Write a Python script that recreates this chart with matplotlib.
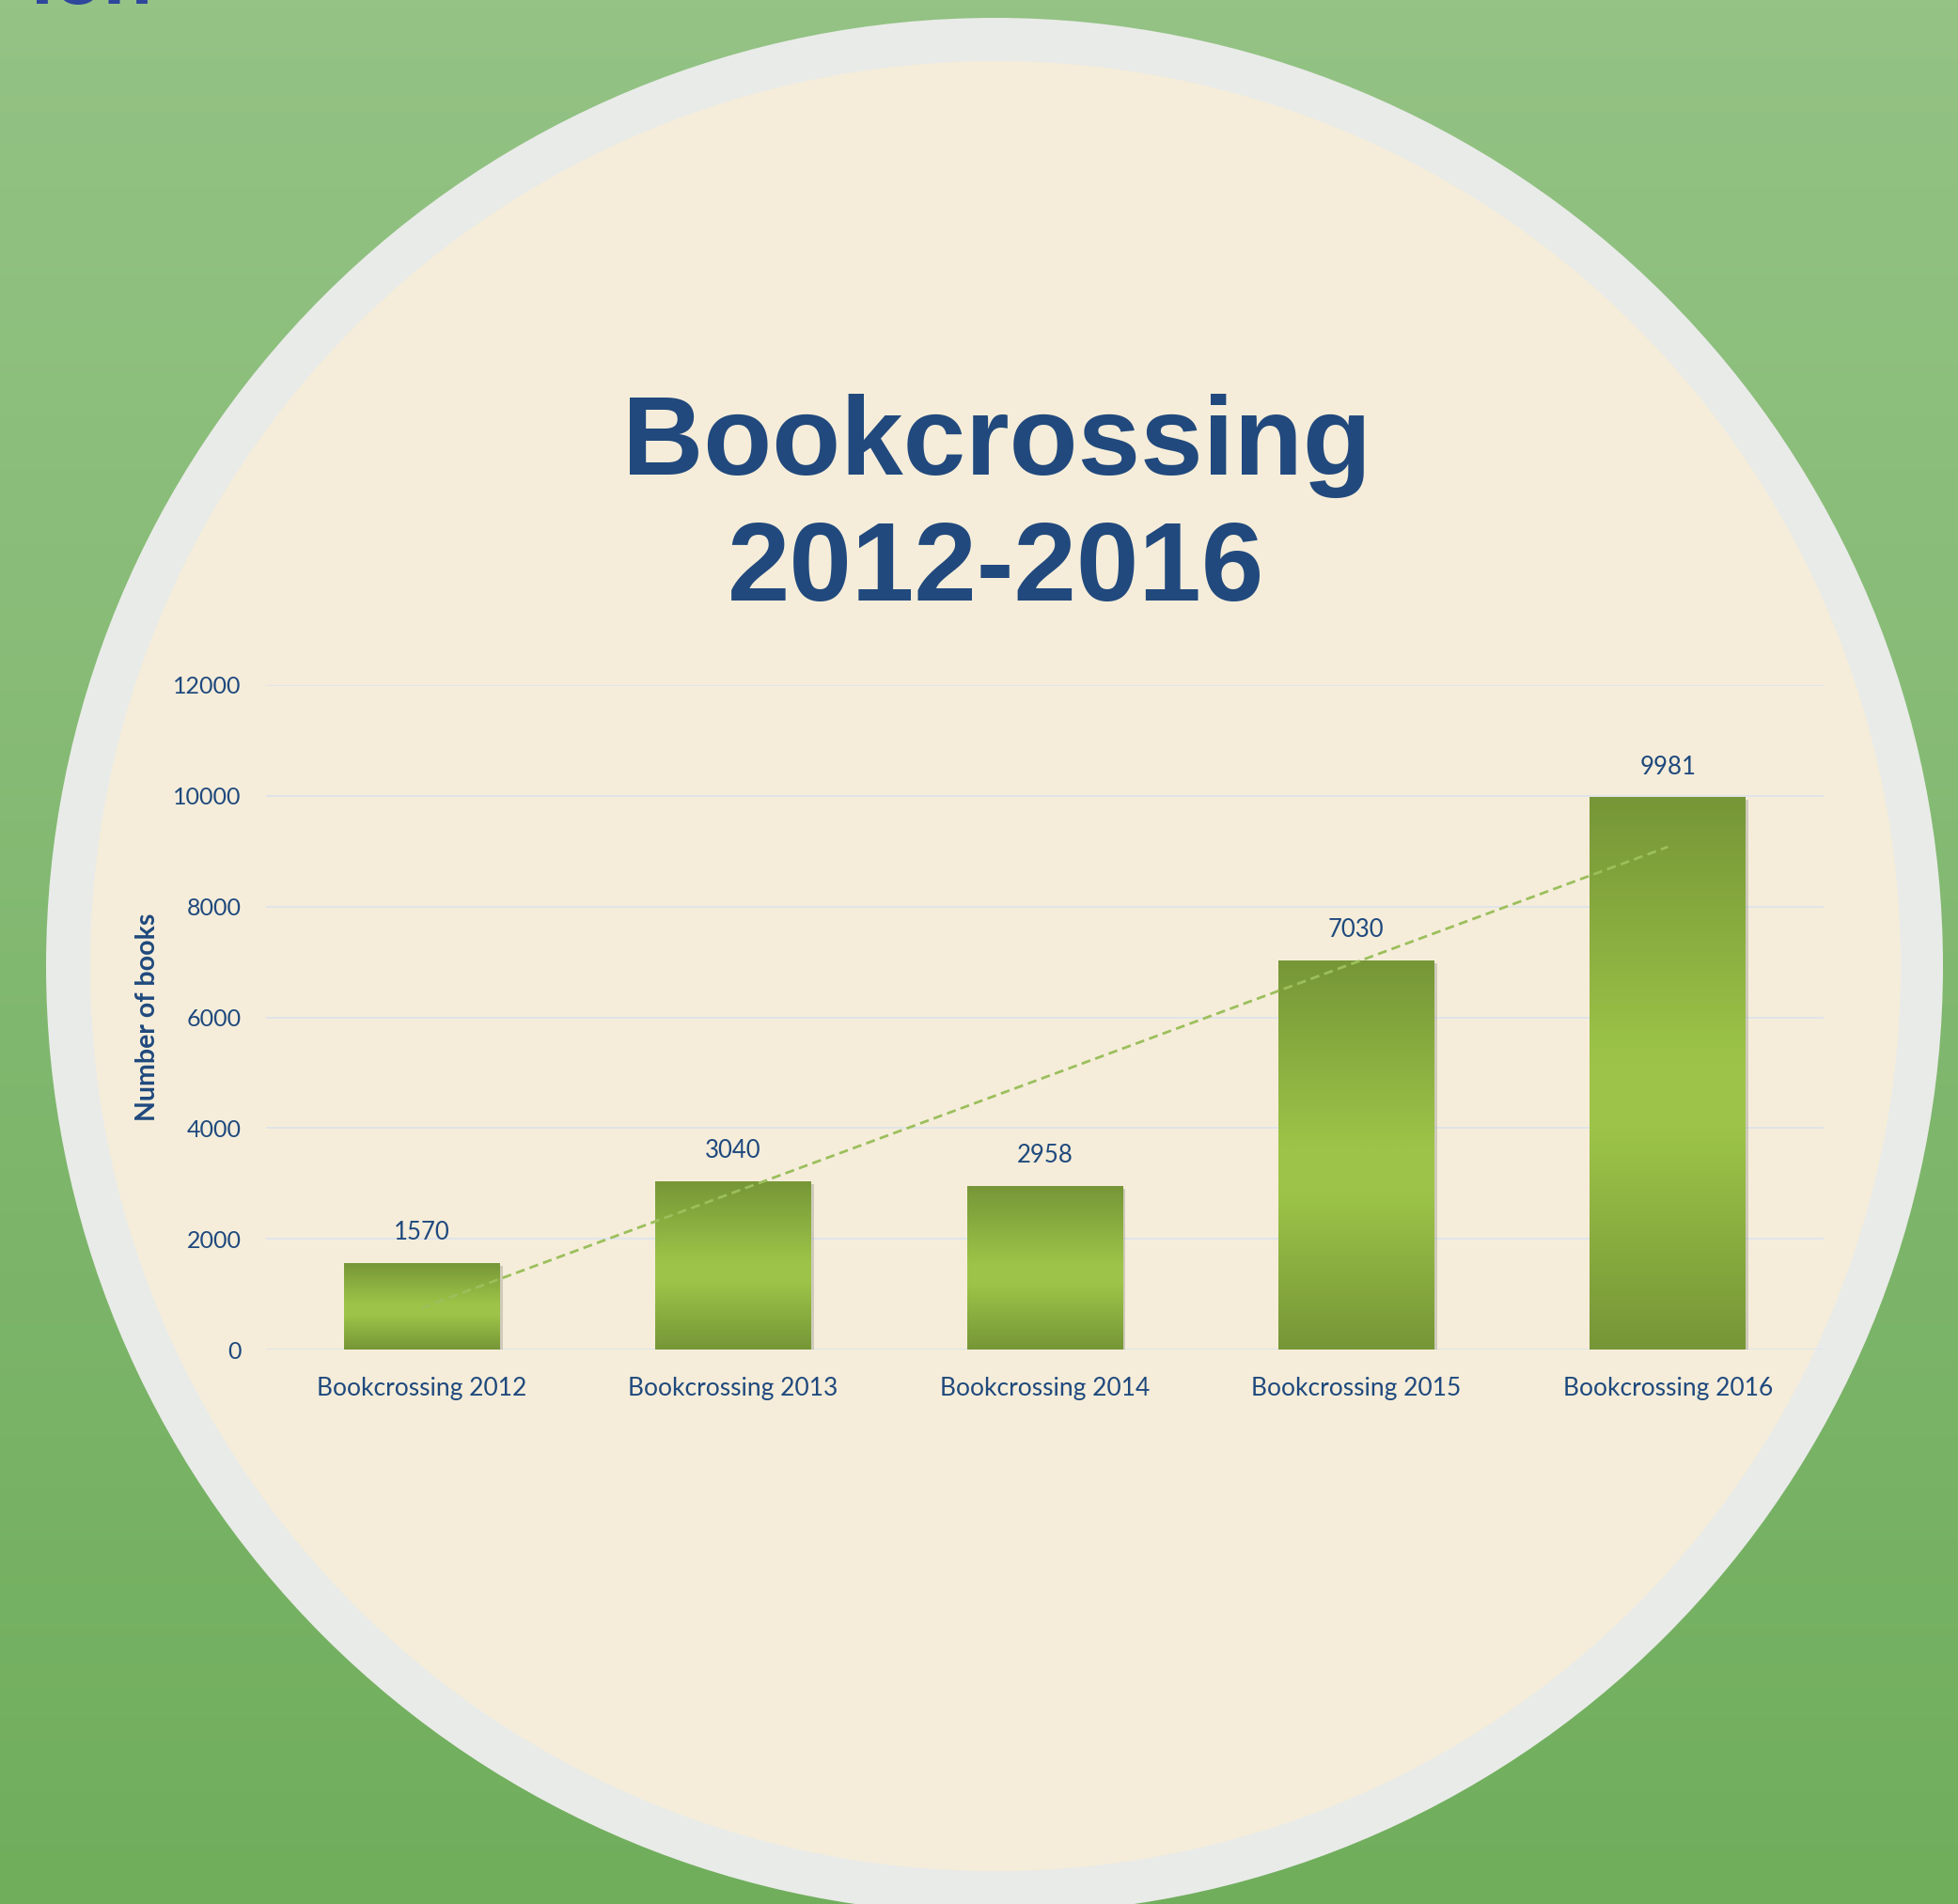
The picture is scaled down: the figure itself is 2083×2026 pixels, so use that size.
import numpy as np
import matplotlib
matplotlib.use("Agg")
import matplotlib.pyplot as plt
from matplotlib.patches import Circle
import matplotlib.patheffects as pe
from matplotlib.colors import to_rgb

# ---------------- data ----------------
categories = ["Bookcrossing 2012", "Bookcrossing 2013", "Bookcrossing 2014",
              "Bookcrossing 2015", "Bookcrossing 2016"]
books = [1570, 3040, 2958, 7030, 9981]
yticks = [0, 2000, 4000, 6000, 8000, 10000, 12000]
title_lines = ["Bookcrossing", "2012-2016"]
ylabel = "Number of books"

# ---------------- style ----------------
W, H = 2083, 2026
DPI = 100
BLUE = "#1F497D"
TITLE_BLUE = "#21497D"
BG_TOP = "#94C385"
BG_BOT = "#70AE5C"
RING = "#E9EBE8"
CREAM = "#F5EDDA"
BAR_DARK = "#769637"
BAR_LIGHT = "#9DC448"
TREND = "#9CBF5C"
GRID = "#DCE3EB"
NUM_FONT = "Lato"

fig = plt.figure(figsize=(W / DPI, H / DPI), dpi=DPI)

# background: green gradient + ring + cream disc (pixel coordinates)
bg = fig.add_axes([0, 0, 1, 1], zorder=-10)
bg.set_xlim(0, W)
bg.set_ylim(H, 0)
bg.axis("off")
c0, c1 = np.array(to_rgb(BG_TOP)), np.array(to_rgb(BG_BOT))
t = np.linspace(0, 1, 256)[:, None, None]
grad = c0 * (1 - t) + c1 * t
bg.imshow(grad, extent=(0, W, H, 0), aspect="auto", zorder=0)
bg.add_patch(Circle((1058, 1028), 1009, facecolor=RING, edgecolor="none", zorder=1))
bg.add_patch(Circle((1059, 1028), 963, facecolor=CREAM, edgecolor="none", zorder=2))
bg.set_xlim(0, W)
bg.set_ylim(H, 0)

# partially visible heading at top-left (cut by the top edge, as in the source)
fig.text(162 / W, 1 - 4 / H, "ion", ha="right", va="baseline",
         fontsize=62, fontweight="bold", family="Liberation Sans", color="#2E469B")

# title
fig.text(1060 / W, 1 - 505 / H, title_lines[0], ha="center", va="baseline",
         fontsize=86, fontweight="bold", family="Liberation Sans", color=TITLE_BLUE)
fig.text(1060 / W, 1 - 639 / H, title_lines[1], ha="center", va="baseline",
         fontsize=86, fontweight="bold", family="Liberation Sans", color=TITLE_BLUE)

# chart axes
left, right, top, bottom = 283, 1940, 729, 1436
ax = fig.add_axes([left / W, 1 - bottom / H, (right - left) / W, (bottom - top) / H])
ax.patch.set_alpha(0)
x = np.arange(len(categories))
bars = ax.bar(x, books, width=0.5, color=BAR_DARK, zorder=3)

dk, lt = np.array(to_rgb(BAR_DARK)), np.array(to_rgb(BAR_LIGHT))
stops = np.array([0.0, 0.48, 0.6, 1.0])
vals = np.array([0.0, 1.0, 1.0, 0.0])
s = np.linspace(0, 1, 300)
mix = np.interp(s, stops, vals)[:, None, None]
bar_grad = dk * (1 - mix) + lt * mix

for b in bars:
    b.set_path_effects([pe.SimplePatchShadow(offset=(2.2, -2.2), shadow_rgbFace="#8a8a80", alpha=0.35),
                        pe.Normal()])
    x0, y0 = b.get_x(), b.get_y()
    w, h = b.get_width(), b.get_height()
    im = ax.imshow(bar_grad, extent=(x0, x0 + w, y0, y0 + h), aspect="auto",
                   zorder=3.5, interpolation="bilinear")
    im.set_clip_path(b)

# data labels
for xi, v in zip(x, books):
    ax.annotate(f"{v}", (xi, v), xytext=(0, 23), textcoords="offset points",
                ha="center", va="center", fontsize=18.5, family=NUM_FONT, color=BLUE)

# linear trend line
coef = np.polyfit(x, books, 1)
ax.plot(x, np.polyval(coef, x), color=TREND, lw=2.0, linestyle=(0, (3.5, 2)), zorder=5)

ax.set_xlim(-0.5, len(categories) - 0.5)
ax.set_ylim(0, 12000)
ax.set_yticks(yticks)
ax.set_xticks(x)
ax.set_xticklabels(categories, fontsize=19, family=NUM_FONT, color=BLUE)
ax.set_yticklabels([str(v) for v in yticks], fontsize=18, family=NUM_FONT, color=BLUE)
ax.tick_params(axis="y", length=0, pad=19)
ax.tick_params(axis="x", length=0, pad=21)
ax.grid(axis="y", color=GRID, lw=1.2, zorder=0)
ax.set_axisbelow(True)
for sp in ax.spines.values():
    sp.set_visible(False)

ax.set_ylabel(ylabel, fontsize=20.5, fontweight="bold", family=NUM_FONT, color=BLUE,
              va="center")
ax.yaxis.set_label_coords((157 - left) / (right - left), 0.5)

fig.savefig("out.png", dpi=DPI)
